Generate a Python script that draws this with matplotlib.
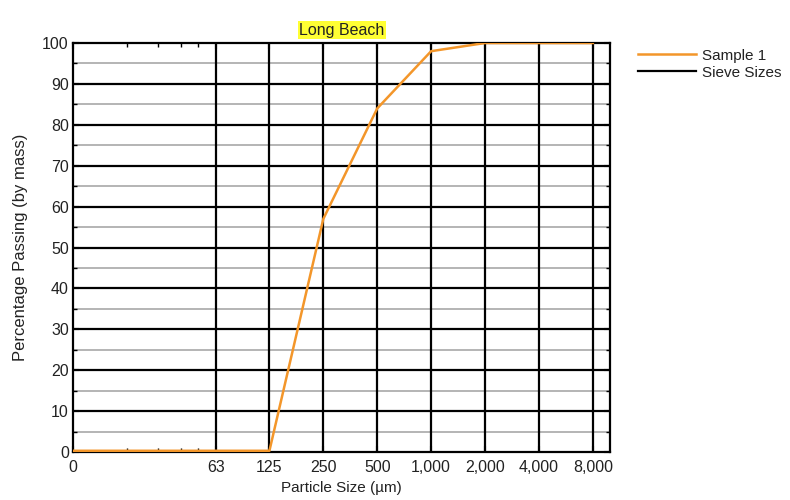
import numpy as np
import matplotlib
matplotlib.use("Agg")
import matplotlib.pyplot as plt
from matplotlib.ticker import FixedLocator, NullFormatter

plt.rcParams['font.family'] = ['Liberation Sans', 'DejaVu Sans']

# sample data
size = [10, 63, 125, 250, 500, 1000, 2000, 4000, 8000]
passing = [0.3, 0.3, 0.3, 57, 84, 98, 100, 100, 100]

sieve_sizes = [63, 125, 250, 500, 1000, 2000, 4000, 8000]
xtick_pos = [10, 63, 125, 250, 500, 1000, 2000, 4000, 8000]
xtick_labels = ["0", "63", "125", "250", "500", "1,000", "2,000", "4,000", "8,000"]
xminor = [20, 30, 40, 50]

fig = plt.figure(figsize=(7.9, 5), dpi=100)
ax = fig.add_axes([0.0924, 0.096, 0.680, 0.818])

ax.set_xscale("log")
ax.set_xlim(10, 10000)
ax.set_ylim(0, 100)

# horizontal grid: black at 10s, gray at 5s
for y in range(5, 100, 10):
    ax.axhline(y, color="#a8a8a8", lw=1.2, zorder=1)
for y in range(10, 100, 10):
    ax.axhline(y, color="black", lw=1.6, zorder=1)

# sieve lines
for i, s in enumerate(sieve_sizes):
    ax.plot([s, s], [0, 100], color="black", lw=1.6, zorder=2,
            label="Sieve Sizes" if i == 0 else None)

line, = ax.plot(size, passing, color="#f3962a", lw=1.8, zorder=3, label="Sample 1")

ax.xaxis.set_major_locator(FixedLocator(xtick_pos))
ax.set_xticklabels(xtick_labels)
ax.xaxis.set_minor_locator(FixedLocator(xminor))
ax.xaxis.set_minor_formatter(NullFormatter())
ax.set_yticks(range(0, 101, 10))
ax.yaxis.set_minor_locator(FixedLocator(range(5, 100, 10)))

ax.tick_params(which="both", direction="in", top=True, right=True, labelsize=11.5,
               labelcolor="#222222")
ax.tick_params(which="major", length=4, width=1.5)
ax.tick_params(which="minor", length=3, width=1.0)
ax.tick_params(axis="x", pad=6)
ax.tick_params(axis="y", pad=3)
for sp in ax.spines.values():
    sp.set_linewidth(1.6)

ax.set_xlabel("Particle Size (\u00b5m)", fontsize=11, labelpad=4, color="#222222")
ax.set_ylabel("Percentage Passing (by mass)", fontsize=12, labelpad=10, color="#222222")
ax.set_title("Long Beach", fontsize=11.5, pad=6, color="#222222",
             bbox=dict(facecolor="#ffff33", edgecolor="none", pad=1))

sieve_handle = [l for l in ax.get_lines() if l.get_label() == "Sieve Sizes"][0]
leg = fig.legend([line, sieve_handle], ["Sample 1", "Sieve Sizes"], loc="upper left",
                 bbox_to_anchor=(0.79, 0.93), frameon=False, fontsize=11,
                 handlelength=3.8, handletextpad=0.4, labelspacing=0.2)
for t in leg.get_texts():
    t.set_color("#222222")

fig.savefig("out.png", dpi=100)
